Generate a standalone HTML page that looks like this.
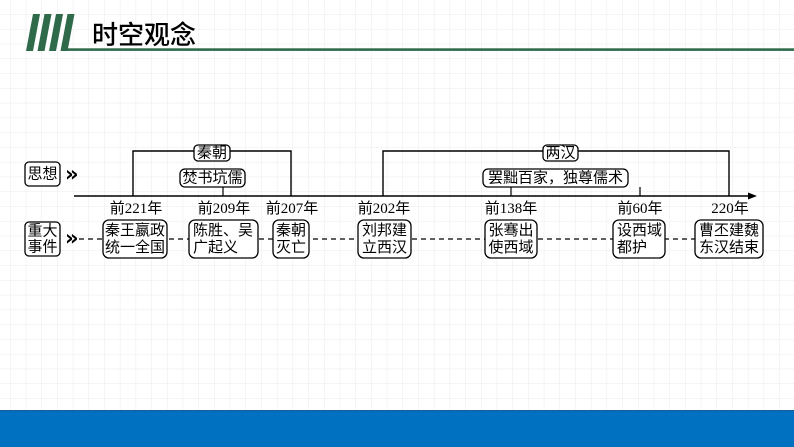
<!DOCTYPE html>
<html><head><meta charset="utf-8"><style>
html,body{margin:0;padding:0;background:#fff;}
svg{display:block;}
text{font-family:"Liberation Serif","Noto Sans CJK SC",serif;fill:#000;}
.cjk{font-family:"Liberation Sans","Noto Sans CJK SC",sans-serif;}
</style></head><body>
<svg width="794" height="447" viewBox="0 0 794 447" xmlns="http://www.w3.org/2000/svg">
<defs>
<pattern id="g" x="10" y="14.2" width="15.7" height="14.77" patternUnits="userSpaceOnUse">
<path d="M0 0 V14.77 M0 0 H15.7" stroke="#ebebeb" stroke-width="1" fill="none"/>
</pattern>
</defs>
<rect x="0" y="0" width="794" height="410" fill="url(#g)"/>
<!-- title -->
<g fill="#2f6a4a">
<polygon points="26,51 33,51 40,14 33,14"/>
<polygon points="37.5,51 44.5,51 51.5,14 44.5,14"/>
<polygon points="49,51 56,51 63,14 56,14"/>
<polygon points="60.5,51 67.5,51 74.5,14 67.5,14"/>
<rect x="62" y="48.3" width="732" height="2.6"/>
</g>
<text class="cjk" x="92" y="35" font-size="26" dominant-baseline="central" font-weight="500">时空观念</text>

<!-- left labels -->
<g fill="#fff" stroke="#000" stroke-width="1.3">
<rect x="25" y="162" width="35" height="24" rx="4"/>
<rect x="25" y="222" width="35" height="34" rx="4"/>
</g>
<text class="cjk" x="42.5" y="174" font-size="15" text-anchor="middle" dominant-baseline="central">思想</text>
<text class="cjk" x="42.5" y="231" font-size="15" text-anchor="middle" dominant-baseline="central">重大</text>
<text class="cjk" x="42.5" y="247" font-size="15" text-anchor="middle" dominant-baseline="central">事件</text>
<text x="65" y="174" font-size="21" font-weight="bold" dominant-baseline="central" style="font-family:'DejaVu Sans',sans-serif">»</text>
<text x="65" y="238" font-size="21" font-weight="bold" dominant-baseline="central" style="font-family:'DejaVu Sans',sans-serif">»</text>

<!-- dashed line -->
<line x1="79" y1="239" x2="695" y2="239" stroke="#000" stroke-width="1.2" stroke-dasharray="5,4"/>

<!-- brackets -->
<path d="M133 196 V151 H291 V196" fill="none" stroke="#000" stroke-width="1.4"/>
<path d="M383 196 V151 H729 V196" fill="none" stroke="#000" stroke-width="1.4"/>
<!-- axis -->
<line x1="74" y1="196" x2="751" y2="196" stroke="#000" stroke-width="1.4"/>
<polygon points="757,196 748,192.5 748,199.5" fill="#000"/>
<!-- ticks -->
<g stroke="#000" stroke-width="1.2">
<line x1="223" y1="187" x2="223" y2="196"/>
<line x1="511" y1="187" x2="511" y2="196"/>
<line x1="640" y1="187" x2="640" y2="196"/>
</g>

<!-- top boxes -->
<g fill="#fff" stroke="#000" stroke-width="1.3">
<rect x="194" y="145" width="36" height="16" rx="4"/>
<rect x="543" y="145" width="35" height="16" rx="4"/>
<rect x="180" y="169" width="65" height="18" rx="5"/>
<rect x="483" y="169" width="145" height="18" rx="5"/>
</g>
<text class="cjk" x="212" y="153" font-size="15" text-anchor="middle" dominant-baseline="central">秦朝</text>
<text class="cjk" x="560.5" y="153" font-size="15" text-anchor="middle" dominant-baseline="central">两汉</text>
<text class="cjk" x="212.5" y="178" font-size="15" text-anchor="middle" dominant-baseline="central">焚书坑儒</text>
<text class="cjk" x="555.5" y="178" font-size="15" text-anchor="middle" dominant-baseline="central">罢黜百家，独尊儒术</text>

<!-- year labels -->
<g font-size="15">
<text x="136" y="209" text-anchor="middle" dominant-baseline="central">前221年</text>
<text x="224" y="209" text-anchor="middle" dominant-baseline="central">前209年</text>
<text x="292" y="209" text-anchor="middle" dominant-baseline="central">前207年</text>
<text x="384" y="209" text-anchor="middle" dominant-baseline="central">前202年</text>
<text x="511" y="209" text-anchor="middle" dominant-baseline="central">前138年</text>
<text x="640" y="209" text-anchor="middle" dominant-baseline="central">前60年</text>
<text x="730" y="209" text-anchor="middle" dominant-baseline="central">220年</text>
</g>

<!-- event boxes -->
<g fill="#fff" stroke="#000" stroke-width="1.3">
<rect x="103" y="220" width="64" height="38" rx="6"/>
<rect x="189" y="220" width="69" height="38" rx="6"/>
<rect x="273" y="220" width="36" height="38" rx="6"/>
<rect x="358" y="220" width="53" height="38" rx="6"/>
<rect x="485" y="220" width="52" height="38" rx="6"/>
<rect x="613" y="220" width="52" height="38" rx="6"/>
<rect x="695" y="220" width="68" height="38" rx="6"/>
</g>
<g>
<text class="cjk" x="135" y="230.5" font-size="15" text-anchor="middle" dominant-baseline="central">秦王嬴政</text>
<text class="cjk" x="135" y="247.5" font-size="15" text-anchor="middle" dominant-baseline="central">统一全国</text>
<text class="cjk" x="193" y="230.5" font-size="15" dominant-baseline="central">陈胜、吴</text>
<text class="cjk" x="193" y="247.5" font-size="15" dominant-baseline="central">广起义</text>
<text class="cjk" x="291" y="230.5" font-size="15" text-anchor="middle" dominant-baseline="central">秦朝</text>
<text class="cjk" x="291" y="247.5" font-size="15" text-anchor="middle" dominant-baseline="central">灭亡</text>
<text class="cjk" x="384.5" y="230.5" font-size="15" text-anchor="middle" dominant-baseline="central">刘邦建</text>
<text class="cjk" x="384.5" y="247.5" font-size="15" text-anchor="middle" dominant-baseline="central">立西汉</text>
<text class="cjk" x="511" y="230.5" font-size="15" text-anchor="middle" dominant-baseline="central">张骞出</text>
<text class="cjk" x="511" y="247.5" font-size="15" text-anchor="middle" dominant-baseline="central">使西域</text>
<text class="cjk" x="617" y="230.5" font-size="15" dominant-baseline="central">设西域</text>
<text class="cjk" x="617" y="247.5" font-size="15" dominant-baseline="central">都护</text>
<text class="cjk" x="729" y="230.5" font-size="15" text-anchor="middle" dominant-baseline="central">曹丕建魏</text>
<text class="cjk" x="729" y="247.5" font-size="15" text-anchor="middle" dominant-baseline="central">东汉结束</text>
</g>

<!-- bottom bar -->
<rect x="0" y="410" width="794" height="37" fill="#0070c0"/>
<rect x="0" y="410" width="794" height="1.2" fill="#1a5f9c"/>
</svg>
</body></html>
